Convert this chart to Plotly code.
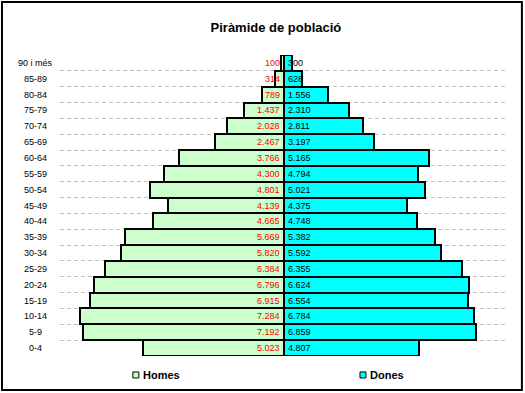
import plotly.graph_objects as go

# Age groups, from the top of the pyramid to the bottom
age_groups = ["90 i més", "85-89", "80-84", "75-79", "70-74", "65-69", "60-64",
              "55-59", "50-54", "45-49", "40-44", "35-39", "30-34", "25-29",
              "20-24", "15-19", "10-14", "5-9", "0-4"]
homes = [100, 314, 789, 1437, 2028, 2467, 3766, 4300, 4801, 4139, 4665,
         5669, 5820, 6384, 6796, 6915, 7284, 7192, 5023]
dones = [300, 628, 1556, 2310, 2811, 3197, 5165, 4794, 5021, 4375, 4748,
         5382, 5592, 6355, 6624, 6554, 6784, 6859, 4807]
series_names = ["Homes", "Dones"]
series_colors = ["#CCFFCC", "#00FFFF"]

def fmt(v):
    return f"{v:,}".replace(",", ".")

FONT = "Liberation Sans, Arial, sans-serif"

fig = go.Figure()
fig.add_trace(go.Bar(
    y=age_groups, x=[-v for v in homes], orientation="h", name=series_names[0],
    marker=dict(color=series_colors[0], line=dict(color="black", width=2)),
    hovertemplate="%{y}: %{customdata}<extra>Homes</extra>", customdata=homes,
))
fig.add_trace(go.Bar(
    y=age_groups, x=dones, orientation="h", name=series_names[1],
    marker=dict(color=series_colors[1], line=dict(color="black", width=2)),
    hovertemplate="%{y}: %{x}<extra>Dones</extra>",
))

# value labels next to the centre line
for g, h, d in zip(age_groups, homes, dones):
    fig.add_annotation(x=0, xref="x", y=g, yref="y", text=fmt(h), showarrow=False,
                       xanchor="right", xshift=-2,
                       font=dict(size=9, family=FONT, color="#FF0000"))
    fig.add_annotation(x=0, xref="x", y=g, yref="y", text=fmt(d), showarrow=False,
                       xanchor="left", xshift=2,
                       font=dict(size=9, family=FONT, color="black"))
    fig.add_annotation(x=-0.054, xref="paper", y=g, yref="y", text=g,
                       showarrow=False, xanchor="center",
                       font=dict(size=9, family=FONT, color="black"))

# legend (drawn by hand so the swatch sits right next to the label)
legend_x = [0.176, 0.683]
for name, color, lx in zip(series_names, series_colors, legend_x):
    fig.add_shape(type="rect", xref="paper", yref="paper",
                  x0=lx - 0.0134, x1=lx, y0=-0.073, y1=-0.053,
                  line=dict(color="black", width=1), fillcolor=color)
    fig.add_annotation(x=lx + 0.004, xref="paper", y=-0.063, yref="paper",
                       text=f"<b>{name}</b>", showarrow=False, xanchor="left",
                       yanchor="middle",
                       font=dict(size=11, family=FONT, color="black"))

# chart frame
fig.add_shape(type="rect", xref="paper", yref="paper",
              x0=-0.1295, x1=1.031, y0=-0.113, y1=1.176,
              line=dict(color="black", width=2))

fig.update_layout(
    width=525, height=393,
    margin=dict(l=60, r=17, t=55, b=37, autoexpand=False),
    paper_bgcolor="white", plot_bgcolor="white",
    barmode="relative", bargap=0, showlegend=False,
    font=dict(family=FONT, size=10, color="black"),
    title=dict(text="<b>Piràmide de població</b>", x=0.482, xref="paper",
               xanchor="center", y=0.931, yanchor="middle",
               font=dict(size=13, family=FONT, color="black")),
    xaxis=dict(range=[-8000, 8000], showgrid=False, zeroline=False,
               showticklabels=False, ticks="", showline=False),
    yaxis=dict(autorange="reversed", type="category", tickson="boundaries",
               showgrid=True, gridcolor="#C0C0C0", griddash="4px,3px", gridwidth=1,
               showticklabels=False, ticks="", showline=False, zeroline=False),
)

fig.write_html("out.html", config={"displayModeBar": False},
               post_script="document.body.style.margin='0px';document.body.style.overflow='hidden';")
